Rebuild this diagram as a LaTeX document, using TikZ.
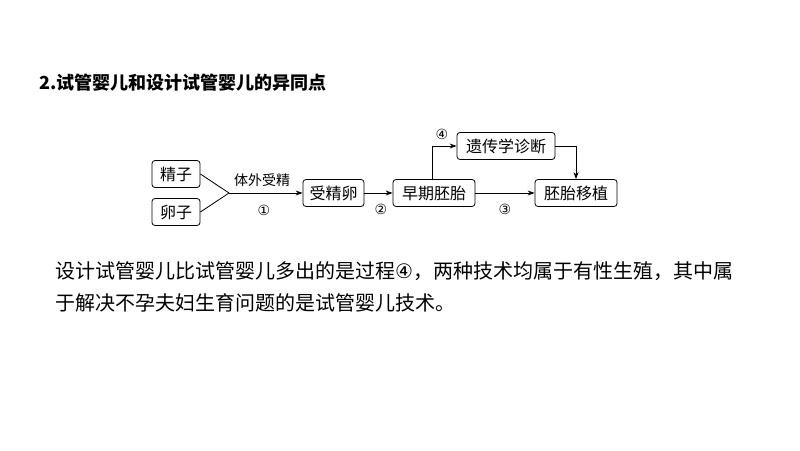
\documentclass[tikz,border=0pt]{standalone}
\usepackage{fontspec}
\setmainfont{Noto Sans CJK SC}
\newfontfamily\djv{DejaVu Sans}
\usetikzlibrary{arrows.meta}
\begin{document}
\begin{tikzpicture}[x=1pt,y=-1pt,
  bx/.style={draw,thick,rounded corners=3pt,inner sep=0pt,minimum height=27pt,font=\fontsize{16}{16}\selectfont},
  ar/.style={thick,-{Stealth[length=7pt,width=5pt]}},
  lb/.style={font=\fontsize{14}{14}\selectfont,inner sep=0pt}]
\useasboundingbox (0,0) rectangle (800,450);
\node[anchor=west,font=\bfseries\fontsize{18}{18}\selectfont] (t) at (36,83) {2.试管婴儿和设计试管婴儿的异同点};
\node[bx,minimum width=48pt] (jz) at (176,174) {精子};
\node[bx,minimum width=48pt] (lz) at (176,212) {卵子};
\coordinate (j) at (229,193);
\node[bx,minimum width=61pt] (sjl) at (333.5,193) {受精卵};
\node[bx,minimum width=82pt] (zq) at (434,193) {早期胚胎};
\node[bx,minimum width=98pt] (yc) at (506,146) {遗传学诊断};
\node[bx,minimum width=82pt] (py) at (576,193) {胚胎移植};
\draw[thick] (jz.east) -- (j) -- (lz.east);
\draw[ar] (j) -- (sjl.west);
\draw[ar] (sjl) -- (zq);
\draw[ar] (zq) -- (py);
\draw[ar] (zq.north -| 432,0) |- (yc.west);
\draw[ar] (yc.east) -| (py.north);
\node[lb] (l0) at (262,180) {体外受精};
\node[lb,font=\djv\fontsize{14}{14}\selectfont] (l1) at (264,210) {①};
\node[lb,font=\djv\fontsize{14}{14}\selectfont] (l2) at (381,209) {②};
\node[lb,font=\djv\fontsize{14}{14}\selectfont] (l3) at (505,209) {③};
\node[lb,font=\djv\fontsize{14}{14}\selectfont] (l4) at (442,134) {④};
\node[anchor=west,font=\fontsize{20}{20}\selectfont,inner sep=0pt] (p1) at (55,271) {设计试管婴儿比试管婴儿多出的是过程{\djv ④}，两种技术均属于有性生殖，其中属};
\node[anchor=west,font=\fontsize{20}{20}\selectfont,inner sep=0pt] (p2) at (55,303) {于解决不孕夫妇生育问题的是试管婴儿技术。};
\end{tikzpicture}
\end{document}
